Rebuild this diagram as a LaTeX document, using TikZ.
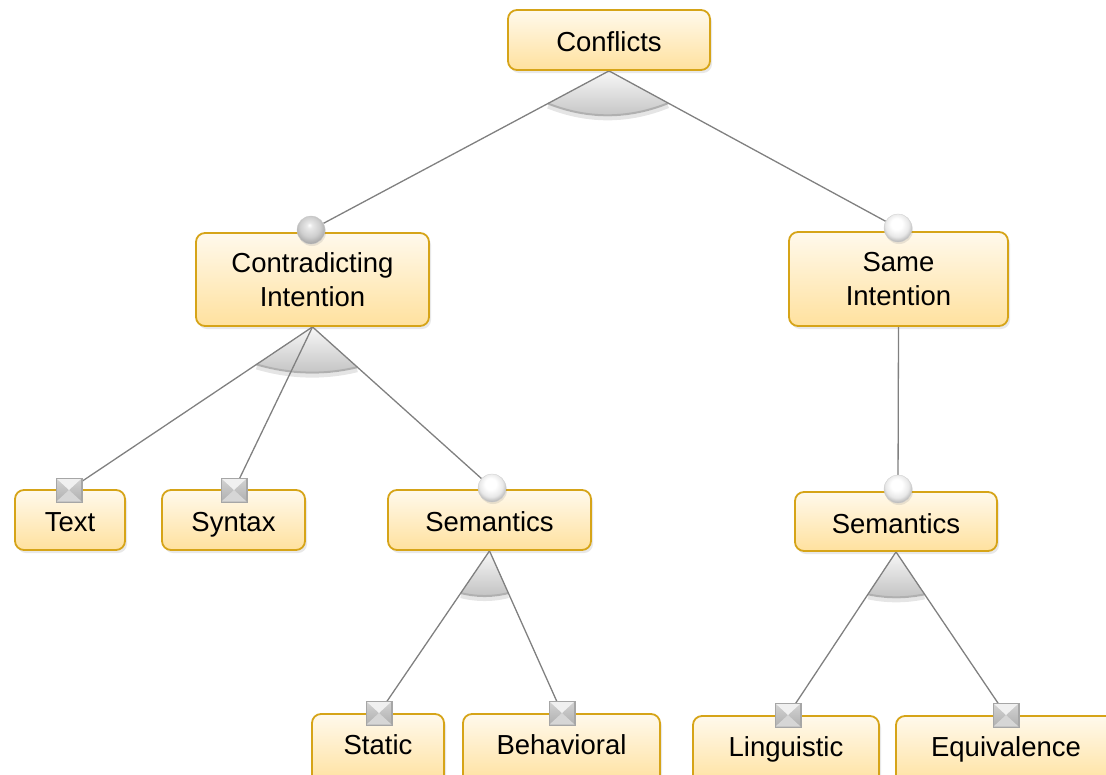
\documentclass[tikz,border=0pt]{standalone}
\usepackage{fontspec}
\setmainfont{Liberation Sans}
\usetikzlibrary{shadows,calc,backgrounds}

\definecolor{boxline}{RGB}{214,164,24}
\definecolor{boxtop}{RGB}{255,249,236}
\definecolor{boxbot}{RGB}{255,225,158}
\definecolor{edgegray}{RGB}{128,128,128}

% soft balls for the optional / mandatory markers
\pgfdeclareradialshading{wball}{\pgfpoint{-3bp}{9bp}}{color(0bp)=(white); color(10bp)=(white); color(21bp)=(gray!18); color(28bp)=(gray!55); color(50bp)=(gray!55)}
\pgfdeclareradialshading{gball}{\pgfpoint{-3bp}{9bp}}{color(0bp)=(white); color(5bp)=(gray!18); color(18bp)=(gray!38); color(28bp)=(gray!68); color(50bp)=(gray!68)}

\tikzset{
  fbox/.style={rectangle, rounded corners=9pt, draw=boxline, line width=1.8pt,
    top color=boxtop, bottom color=boxbot,
    font=\fontsize{27.5}{34}\selectfont, align=center, inner sep=0pt,
    drop shadow={shadow xshift=2pt, shadow yshift=-3pt, opacity=0.18}},
  oneline/.style={text height=23pt, text depth=0pt},
  lowline/.style={text height=23pt, text depth=13pt},
  ballw/.style={circle, inner sep=0pt, minimum size=28pt, shading=wball,
    draw=gray!40, line width=0.3pt,
    drop shadow={shadow xshift=1pt, shadow yshift=-2pt, opacity=0.18}},
  ballg/.style={ballw, shading=gball},
  sqm/.style={rectangle, inner sep=0pt, minimum width=25pt, minimum height=23pt,
    top color=gray!35, bottom color=gray!62, draw=gray!70, line width=0.4pt,
    drop shadow={shadow xshift=1pt, shadow yshift=-1.5pt, opacity=0.22}},
  edge/.style={draw=edgegray, line width=1.3pt},
  sectorfill/.style={top color=gray!6, bottom color=gray!48},
  sectorrim/.style={draw=gray!62, line width=2pt},
}

% "or"-group sector below a parent: apex, left child, right child,
% fractions along both edges, bulge of the lower arc
\newcommand{\orsector}[6]{%
  \coordinate (sl) at ($(#1)!#4!(#2)$);
  \coordinate (sr) at ($(#1)!#5!(#3)$);
  \fill[sectorfill] (#1) -- (sl) .. controls ($(sl)!0.33!(sr)+(0,#6)$) and ($(sl)!0.67!(sr)+(0,#6)$) .. (sr) -- cycle;
  \draw[black, opacity=0.10, line width=4pt] ($(sl)+(0,3)$) .. controls ($(sl)!0.33!(sr)+(0,#6+3)$) and ($(sl)!0.67!(sr)+(0,#6+3)$) .. ($(sr)+(0,3)$);
  \draw[sectorrim] (sl) .. controls ($(sl)!0.33!(sr)+(0,#6)$) and ($(sl)!0.67!(sr)+(0,#6)$) .. (sr);
}

% envelope-style facets on a square marker
\newcommand{\envelope}[1]{%
  \fill[gray!12] (#1.north west) -- (#1.north east) -- (#1.center) -- cycle;
  \fill[gray!32] (#1.south west) -- (#1.south east) -- (#1.center) -- cycle;
  \draw[gray!70, line width=0.4pt] (#1.north west) rectangle (#1.south east);
}

\begin{document}
\begin{tikzpicture}[x=1pt,y=-1pt]
\useasboundingbox (0,0) rectangle (1106,774);

% feature boxes
\node[fbox, oneline, minimum width=202pt, minimum height=60pt] (conf) at (609,40) {Conflicts};
\node[fbox, minimum width=233pt, minimum height=93pt] (contra) at (312.5,279.5) {Contradicting\\Intention};
\node[fbox, minimum width=219pt, minimum height=94pt] (same) at (898.5,279) {Same\\Intention};
\node[fbox, oneline, minimum width=110pt, minimum height=60pt] (text) at (70,520) {Text};
\node[fbox, oneline, minimum width=143pt, minimum height=60pt] (syntax) at (233.5,520) {Syntax};
\node[fbox, oneline, minimum width=203pt, minimum height=60pt] (semL) at (489.5,520) {Semantics};
\node[fbox, oneline, minimum width=202pt, minimum height=59pt] (semR) at (896,521.5) {Semantics};
\node[fbox, lowline, minimum width=132pt, minimum height=70pt] (static) at (378,749) {Static};
\node[fbox, lowline, minimum width=197pt, minimum height=70pt] (behav) at (561.5,749) {Behavioral};
\node[fbox, lowline, minimum width=186pt, minimum height=70pt] (ling) at (786,751) {Linguistic};
\node[fbox, lowline, minimum width=220pt, minimum height=70pt] (equiv) at (1006,751) {Equivalence};

% markers at the child ends of the edges
\node[ballg] (mContra) at (311,230) {};
\node[ballw] (mSame) at (898,228) {};
\node[ballw] (mSemL) at (492,488) {};
\node[ballw] (mSemR) at (898,489) {};
\node[sqm] (mText) at (69,490) {}; \envelope{mText}
\node[sqm] (mSyntax) at (234,490) {}; \envelope{mSyntax}
\node[sqm] (mStatic) at (379,713) {}; \envelope{mStatic}
\node[sqm] (mBehav) at (562,713) {}; \envelope{mBehav}
\node[sqm] (mLing) at (788,715) {}; \envelope{mLing}
\node[sqm] (mEquiv) at (1006,715) {}; \envelope{mEquiv}

\begin{scope}[on background layer]
  \orsector{conf.south}{mContra}{mSame}{0.205}{0.205}{16}
  \orsector{contra.south}{mText}{mSemL}{0.23}{0.25}{9}
  \orsector{semL.south}{mStatic}{mBehav}{0.26}{0.26}{4}
  \orsector{semR.south}{mLing}{mEquiv}{0.26}{0.26}{4}

  \draw[edge] (conf.south) -- (mContra);
  \draw[edge] (conf.south) -- (mSame);
  \draw[edge] (contra.south) -- (mText);
  \draw[edge] (contra.south) -- (mSyntax);
  \draw[edge] (contra.south) -- (mSemL);
  \draw[edge] (same.south) -- (mSemR);
  \draw[edge] (semL.south) -- (mStatic);
  \draw[edge] (semL.south) -- (mBehav);
  \draw[edge] (semR.south) -- (mLing);
  \draw[edge] (semR.south) -- (mEquiv);
\end{scope}
\end{tikzpicture}
\end{document}
